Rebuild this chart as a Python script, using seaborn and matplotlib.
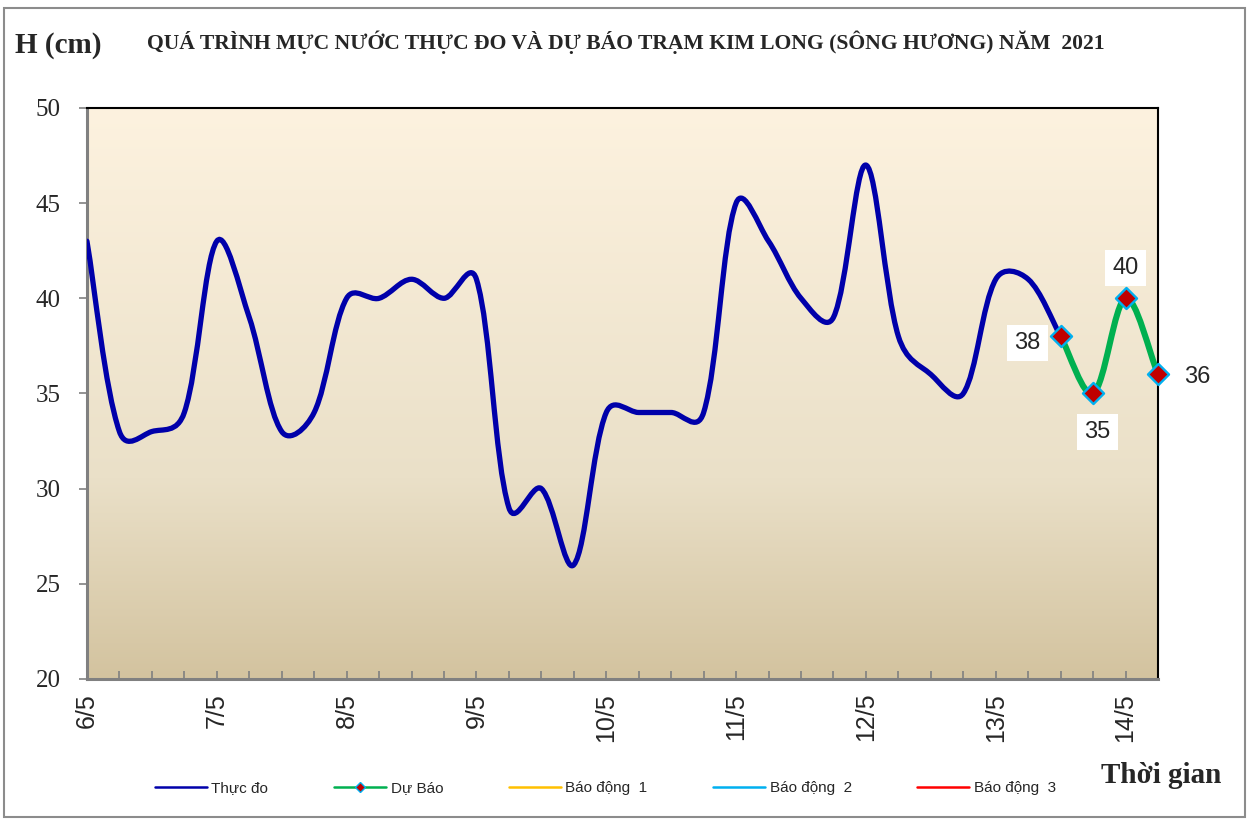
import numpy as np
import pandas as pd
import matplotlib
matplotlib.use("Agg")
import matplotlib.pyplot as plt
from matplotlib.path import Path
from matplotlib.patches import PathPatch, Rectangle
from matplotlib.lines import Line2D
from matplotlib.colors import LinearSegmentedColormap
import seaborn as sns

# -----------------------------------------------------------------------------
# DATA (6-hour steps, starting 6/5)
# -----------------------------------------------------------------------------

observed = [43, 33, 33, 34, 43, 39, 33, 34, 40, 40, 41, 40, 41, 29, 30, 26,
            34, 34, 34, 34, 45, 43, 40, 39, 47, 38, 36, 35, 41, 41, 38]
forecast = [38, 35, 40, 36]
forecast_start = len(observed) - 1

day_labels = ["6/5", "7/5", "8/5", "9/5", "10/5", "11/5", "12/5", "13/5", "14/5"]
steps_per_day = 4

legend_labels = ["Thực đo", "Dự Báo", "Báo động  1", "Báo động  2", "Báo động  3"]

title = "QUÁ TRÌNH MỰC NƯỚC THỰC ĐO VÀ DỰ BÁO TRẠM KIM LONG (SÔNG HƯƠNG) NĂM  2021"

df_obs = pd.DataFrame({"step": np.arange(len(observed)), "level": observed})
df_fc = pd.DataFrame({"step": forecast_start + np.arange(len(forecast)), "level": forecast})

# -----------------------------------------------------------------------------
# STYLE
# -----------------------------------------------------------------------------

sns.set_style("white")
plt.rcParams["font.family"] = ["Liberation Sans", "DejaVu Sans"]
SERIF = ["Liberation Serif", "DejaVu Serif"]

BLUE = "#0000AA"
GREEN = "#00B050"
RED = "#C00000"
CYAN = "#00B0F0"


def smooth_path(ax, x, y):
    # Excel-like smoothed line: cubic Bezier through every point,
    # half plain Catmull-Rom, half handles scaled by on-screen segment lengths
    pts = np.column_stack([x, y]).astype(float)
    scr = ax.transData.transform(pts)
    n = len(pts)
    verts = [pts[0]]
    codes = [Path.MOVETO]

    def handle(i, forward):
        prev_i, next_i = max(i - 1, 0), min(i + 1, n - 1)
        chord = pts[next_i] - pts[prev_i]
        d_prev = np.hypot(*(scr[i] - scr[prev_i]))
        d_next = np.hypot(*(scr[next_i] - scr[i]))
        tot = d_prev + d_next
        scaled = chord * (d_next if forward else d_prev) / tot / 3 if tot else 0
        return 0.5 * chord / 6 + 0.5 * scaled

    for i in range(n - 1):
        c1 = pts[i] + handle(i, True)
        c2 = pts[i + 1] - handle(i + 1, False)
        verts += [c1, c2, pts[i + 1]]
        codes += [Path.CURVE4] * 3
    return Path(verts, codes)


fig = plt.figure(figsize=(12.51, 8.21), dpi=100)
ax = fig.add_axes([0.0695, 0.173, 0.8562, 0.6955])

n_steps = forecast_start + len(forecast) - 1
ax.set_xlim(0, n_steps)
ax.set_ylim(20, 50)

# gradient background
cmap = LinearSegmentedColormap.from_list(
    "bg", [(0, "#D3C39F"), (0.35, "#EAE0C8"), (1, "#FDF2DF")])
grad = np.linspace(0, 1, 256).reshape(-1, 1)
ax.imshow(grad, cmap=cmap, aspect="auto", origin="lower",
          extent=[0, n_steps, 20, 50], zorder=0)

# smoothed lines
ax.add_patch(PathPatch(smooth_path(ax, df_obs["step"], df_obs["level"]),
                       facecolor="none", edgecolor=BLUE, lw=3.8,
                       capstyle="round", joinstyle="round", zorder=3))
ax.add_patch(PathPatch(smooth_path(ax, df_fc["step"], df_fc["level"]),
                       facecolor="none", edgecolor=GREEN, lw=4.4,
                       capstyle="round", joinstyle="round", zorder=4))

sns.scatterplot(data=df_fc, x="step", y="level", marker="D", s=115,
                color=RED, edgecolor=CYAN, linewidth=1.7, zorder=5,
                ax=ax, clip_on=False, legend=False)

# forecast value labels
offsets = [(-24, -5), (3, -28), (0, 22), (28, -2)]
for (_, row), off in zip(df_fc.iterrows(), offsets):
    boxed = off[0] < 20
    ax.annotate(str(int(row["level"])), (row["step"], row["level"]),
                xytext=off, textcoords="offset points", ha="center", va="center",
                fontsize=17, zorder=6, annotation_clip=False,
                bbox=dict(boxstyle="square,pad=0.3", fc="white", ec="none") if boxed else None)

# axes
ax.set_yticks([20, 25, 30, 35, 40, 45, 50])
ax.set_yticklabels([str(v) for v in [20, 25, 30, 35, 40, 45, 50]], family=SERIF, fontsize=18)
ax.tick_params(axis="y", direction="out", length=6, width=1.2, color="#808080", pad=13, left=True)

ax.set_xticks(np.arange(0, len(day_labels)) * steps_per_day)
ax.set_xticklabels(day_labels, rotation=90, fontsize=18, va="top")
ax.set_xticks(np.arange(1, n_steps), minor=True)
ax.tick_params(axis="x", which="both", direction="in", length=6, width=1.2,
               color="#808080", pad=10, bottom=True)
ax.set_xlabel("")
ax.set_ylabel("")

for side in ["top", "right"]:
    ax.spines[side].set_color("black")
    ax.spines[side].set_linewidth(1.5)
for side in ["left", "bottom"]:
    ax.spines[side].set_color("#808080")
    ax.spines[side].set_linewidth(2.2)

# texts
fig.text(0.5, 0.949, title, ha="center", va="center", family=SERIF,
         fontweight="bold", fontsize=15.6)
fig.text(0.012, 0.945, "H (cm)", ha="left", va="center", family=SERIF,
         fontweight="bold", fontsize=21)
fig.text(0.976, 0.056, "Thời gian", ha="right", va="center", family=SERIF,
         fontweight="bold", fontsize=21)

# legend
handles = [
    Line2D([], [], color=BLUE, lw=1.8),
    Line2D([], [], color=GREEN, lw=1.8, marker="D", markersize=5,
           markerfacecolor=RED, markeredgecolor=CYAN),
    Line2D([], [], color="#FFC000", lw=1.8),
    Line2D([], [], color="#00B0F0", lw=1.8),
    Line2D([], [], color="#FF0000", lw=1.8),
]
fig.legend(handles, legend_labels, loc="center", bbox_to_anchor=(0.484, 0.04),
           ncol=5, frameon=False, fontsize=11, handlelength=3.4,
           handletextpad=0.3, columnspacing=4.3)

# outer frame
fig.patches.append(Rectangle((0.003, 0.005), 0.992, 0.985, transform=fig.transFigure,
                             fill=False, edgecolor="#8C8C8C", lw=1.5))

plt.savefig("out.png", dpi=100)
plt.close()
